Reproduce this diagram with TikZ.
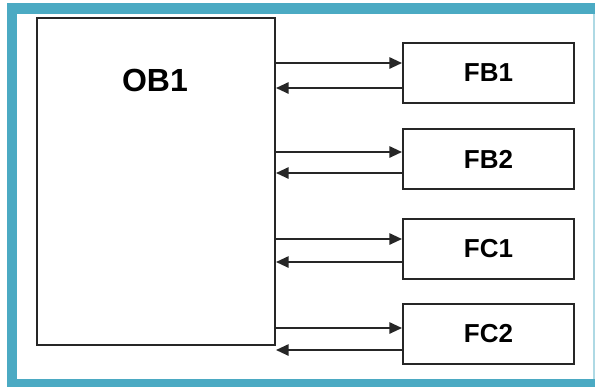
\documentclass[tikz,border=0pt]{standalone}
\usepackage{fontspec}
\setmainfont{Liberation Sans}
\usetikzlibrary{arrows.meta}
\definecolor{frameteal}{RGB}{75,170,195}
\tikzset{
	block/.style={draw=black!85, line width=1.5pt, fill=white, inner sep=0pt},
	fblock/.style={block, minimum width=128.25pt, minimum height=45pt, font=\bfseries\fontsize{19.5}{19.5}\selectfont},
	sig/.style={line width=1.4pt, draw=black!85, -{Triangle[length=9.5pt,width=8.5pt]}}
}
\begin{document}
\begin{tikzpicture}[x=0.75pt,y=-0.75pt]
	\useasboundingbox (0,0) rectangle (595,387);
	\fill[white] (0,0) rectangle (595,387);
	\fill[frameteal] (7,3) rectangle (595,387);
	\fill[frameteal!45] (592.5,14) rectangle (595,379);
	\fill[white] (17,14) rectangle (592.5,379);
	\node[block, minimum width=178.5pt, minimum height=245.25pt] (ob1) at (156,181.5) {};
	\node[font=\bfseries\fontsize{24}{24}\selectfont] (ob1name) at (155,80) {OB1};
	\node[fblock] (fb1) at (488.5,73) {FB1};
	\node[fblock] (fb2) at (488.5,159) {FB2};
	\node[fblock] (fc1) at (488.5,248.5) {FC1};
	\node[fblock] (fc2) at (488.5,334) {FC2};
	\draw[sig] (ob1.east |- 0,63) -- (fb1.west |- 0,63);
	\draw[sig] (fb1.west |- 0,88) -- (ob1.east |- 0,88);
	\draw[sig] (ob1.east |- 0,152) -- (fb2.west |- 0,152);
	\draw[sig] (fb2.west |- 0,173) -- (ob1.east |- 0,173);
	\draw[sig] (ob1.east |- 0,239) -- (fc1.west |- 0,239);
	\draw[sig] (fc1.west |- 0,262) -- (ob1.east |- 0,262);
	\draw[sig] (ob1.east |- 0,328) -- (fc2.west |- 0,328);
	\draw[sig] (fc2.west |- 0,350) -- (ob1.east |- 0,350);
\end{tikzpicture}
\end{document}
